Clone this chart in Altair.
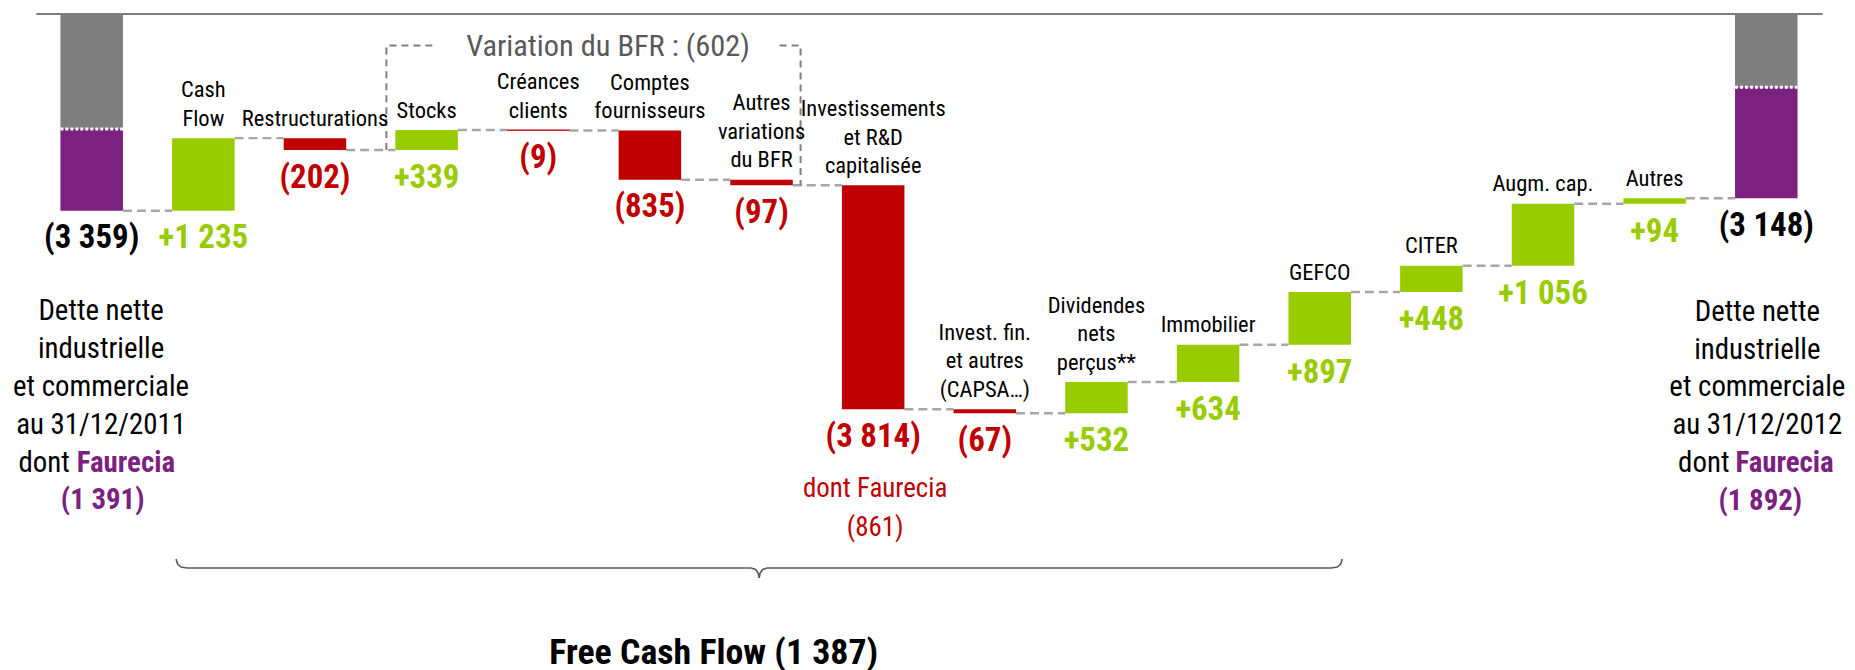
import altair as alt
import pandas as pd

# ---------------- data ----------------
keys = ["start", "cf", "restr", "stocks", "creances", "comptes", "autres_bfr", "invest",
        "invest_fin", "dividendes", "immobilier", "gefco", "citer", "augm_cap", "autres", "end"]
names = ["", "Cash\nFlow", "Restructurations", "Stocks", "Créances\nclients",
         "Comptes\nfournisseurs", "Autres\nvariations\ndu BFR",
         "Investissements\net R&D\ncapitalisée", "Invest. fin.\net autres\n(CAPSA…)",
         "Dividendes\nnets\nperçus**", "Immobilier", "GEFCO", "CITER", "Augm. cap.", "Autres", ""]
changes = [-3359, 1235, -202, 339, -9, -835, -97, -3814, -67, 532, 634, 897, 448, 1056, 94, -3148]
kinds = ["total"] + ["delta"] * 14 + ["total"]
faurecia_share = {"start": 1391, "end": 1892}
invest_faurecia = 861
bfr_total = -602
fcf_total = -1387

# ---------------- styles ----------------
GREEN, RED, GREY, PURPLE, BLACK = "#99CC00", "#C00000", "#7F7F7F", "#7B2180", "#000000"
FONT = "Roboto Condensed, Liberation Sans, sans-serif"
PX_PER_UNIT = 0.05897
PLOT_H = 658
YMIN = -PLOT_H / PX_PER_UNIT
CAT_FS, CAT_LH = 22.6, 28.5
VAL_FS = 33
NOTE_FS, NOTE_LH = 29, 38


def fmt(v):
    s = f"{abs(v):,}".replace(",", " ")
    return f"({s})" if v < 0 else f"+{s}"


# ---------------- derived tables ----------------
bars, labels, conns, dots = [], [], [], []
level = 0
ends = []
for k, n, v, kd in zip(keys, names, changes, kinds):
    if kd == "total":
        s, e = 0, v
        split = v + faurecia_share[k]
        bars.append(dict(cat=k, y0=0, y1=split, part="other"))
        bars.append(dict(cat=k, y0=split, y1=v, part="faurecia"))
        dots.append(dict(cat=k, lvl=split))
        lk = "total"
    else:
        s, e = level, level + v
        bars.append(dict(cat=k, y0=s, y1=e, part="up" if v > 0 else "down"))
        lk = "up" if v > 0 else "down"
    level = e
    ends.append(e)
    labels.append(dict(cat=k, name=n, nlines=n.count("\n") + 1, top=max(s, e), bottom=min(s, e),
                       txt=fmt(v), part=lk))
for i in range(len(keys) - 1):
    conns.append(dict(cat=keys[i], nxt=keys[i + 1], lvl=ends[i]))

bars_df = pd.DataFrame(bars)
lab_df = pd.DataFrame(labels)
conn_df = pd.DataFrame(conns)
dot_df = pd.DataFrame(dots)


# annotation geometry (data units on y, pixel offsets from band start on x)
def u(p):
    return -(p - 12) / PX_PER_UNIT


BOX_TOP = u(44.3)
box_df = pd.DataFrame([
    dict(cat="stocks", off=-9, lvl=ends[2], seg=0, seq=0),
    dict(cat="stocks", off=-9, lvl=BOX_TOP, seg=0, seq=1),
    dict(cat="stocks", off=40, lvl=BOX_TOP, seg=0, seq=2),
    dict(cat="autres_bfr", off=49.6, lvl=BOX_TOP, seg=1, seq=3),
    dict(cat="autres_bfr", off=70.6, lvl=BOX_TOP, seg=1, seq=4),
    dict(cat="autres_bfr", off=70.6, lvl=ends[6], seg=1, seq=5),
])
brace_pts = [("cf", 4, 560), ("cf", 5.5, 565), ("cf", 9, 568), ("cf", 15, 569),
             ("autres_bfr", 21, 569), ("autres_bfr", 25.5, 570.5), ("autres_bfr", 28, 574),
             ("autres_bfr", 29, 579), ("autres_bfr", 30, 574), ("autres_bfr", 32.5, 570.5),
             ("autres_bfr", 37, 569), ("gefco", 43, 569), ("gefco", 49, 568),
             ("gefco", 52.5, 565), ("gefco", 54, 560)]
brace_df = pd.DataFrame([dict(cat=c, off=o, lvl=u(p), seq=i) for i, (c, o, p) in enumerate(brace_pts)])

# ---------------- encodings ----------------
XS = alt.Scale(domain=keys, paddingInner=0.44, paddingOuter=0.22)
XAX = alt.Axis(orient="top", labels=False, ticks=False, title=None, domainColor=GREY,
               domainWidth=2, grid=False)
YS = alt.Scale(domain=[YMIN, 0], nice=False, zero=False)
CS = alt.Scale(domain=["up", "down", "other", "faurecia", "total"],
               range=[GREEN, RED, GREY, PURPLE, BLACK])


def X(field="cat", **kw):
    return alt.X(f"{field}:N", scale=XS, axis=XAX, sort=keys, **kw)


def Y(field):
    return alt.Y(f"{field}:Q", scale=YS, axis=None)


connectors = alt.Chart(conn_df).mark_rule(color="#A6A6A6", strokeWidth=2.5, strokeDash=[9, 5]).encode(
    x=X(bandPosition=1), x2=alt.X2("nxt:N", bandPosition=0), y=Y("lvl"))

bar_layer = alt.Chart(bars_df).mark_bar().encode(
    x=X(), y=Y("y0"), y2="y1:Q",
    color=alt.Color("part:N", scale=CS, legend=None))

thin = alt.Chart(lab_df[lab_df.cat == "creances"]).mark_rule(color=RED, strokeWidth=1.2).encode(
    x=X(bandPosition=0), x2=alt.X2("cat:N", bandPosition=1), y=Y("top"))

dotted = alt.Chart(dot_df).mark_rule(color="white", strokeWidth=3, strokeDash=[3, 2]).encode(
    x=X(bandPosition=0), x2=alt.X2("cat:N", bandPosition=1), y=Y("lvl"))

cat_layers = []
for nl in (1, 2, 3):
    sub = lab_df[(lab_df.name != "") & (lab_df.nlines == nl)]
    cat_layers.append(alt.Chart(sub).mark_text(
        font=FONT, fontSize=CAT_FS, baseline="alphabetic", dy=-12.5 - (nl - 1) * CAT_LH,
        lineBreak="\n", lineHeight=CAT_LH, color=BLACK).encode(x=X(), y=Y("top"), text="name:N"))

val_labels = alt.Chart(lab_df).mark_text(
    font=FONT, fontSize=VAL_FS, fontWeight="bold", baseline="alphabetic", dy=38).encode(
    x=X(), y=Y("bottom"), text="txt:N", color=alt.Color("part:N", scale=CS, legend=None))


# Dette nette blocks
def dette_block(cat, year_txt, share, dx_main, dx_dont, dx_faur, dx_share, dy0):
    d = lab_df[lab_df.cat == cat].copy()
    common = dict(font=FONT, fontSize=NOTE_FS, baseline="alphabetic")
    main = d.assign(t=f"Dette nette\nindustrielle\net commerciale\nau 31/12/{year_txt}")
    l1 = alt.Chart(main).mark_text(lineBreak="\n", lineHeight=NOTE_LH, dx=dx_main, dy=dy0,
                                   color=BLACK, **common).encode(
        x=X(), y=Y("bottom"), text="t:N")
    l2 = alt.Chart(d.assign(t="dont")).mark_text(align="right", dx=dx_dont, dy=dy0 + 4 * NOTE_LH,
                                                  color=BLACK, **common).encode(
        x=X(), y=Y("bottom"), text="t:N")
    l3 = alt.Chart(d.assign(t="Faurecia")).mark_text(fontWeight="bold", align="left", dx=dx_faur,
                                                      dy=dy0 + 4 * NOTE_LH, color=PURPLE,
                                                      **common).encode(
        x=X(), y=Y("bottom"), text="t:N")
    l4 = alt.Chart(d.assign(t=fmt(-share))).mark_text(fontWeight="bold", dx=dx_share,
                                                       dy=dy0 + 5 * NOTE_LH, color=PURPLE,
                                                       **common).encode(
        x=X(), y=Y("bottom"), text="t:N")
    return [l1, l2, l3, l4]


left_block = dette_block("start", "2011", faurecia_share["start"], 9.4, -22, -15, 11, 110)
right_block = dette_block("end", "2012", faurecia_share["end"], -9, -37, -31, -6, 123)

inv_note = alt.Chart(lab_df[lab_df.cat == "invest"].assign(
    t=f"dont Faurecia\n{fmt(-invest_faurecia)}")).mark_text(
    font=FONT, fontSize=27, lineBreak="\n", lineHeight=39, baseline="alphabetic", dx=2, dy=88.5,
    color=RED).encode(x=X(), y=Y("bottom"), text="t:N")

box = alt.Chart(box_df).mark_line(color=GREY, strokeWidth=2, strokeDash=[7, 5]).encode(
    x=X(), xOffset=alt.XOffset("off:Q", scale=None), y=Y("lvl"), detail="seg:N", order="seq:Q")

box_title = alt.Chart(pd.DataFrame([dict(cat="comptes", lvl=BOX_TOP,
                                         t=f"Variation du BFR : {fmt(bfr_total)}")])).mark_text(
    font=FONT, fontSize=30.5, baseline="middle", dx=-42, dy=1, color="#595959").encode(
    x=X(), y=Y("lvl"), text="t:N")

brace = alt.Chart(brace_df).mark_line(color="#595959", strokeWidth=1.6).encode(
    x=X(), xOffset=alt.XOffset("off:Q", scale=None), y=Y("lvl"), order="seq:Q")

fcf = alt.Chart(pd.DataFrame([dict(cat="autres_bfr", lvl=u(665),
                                   t=f"Free Cash Flow {fmt(fcf_total)}")])).mark_text(
    font=FONT, fontSize=36, fontWeight="bold", baseline="alphabetic", dx=-48, color=BLACK).encode(
    x=X(), y=Y("lvl"), text="t:N")

chart = alt.layer(
    connectors, box, bar_layer, thin, dotted, *cat_layers, val_labels,
    *left_block, *right_block, inv_note, box_title, brace, fcf
).properties(
    width=1794, height=PLOT_H,
    padding={"left": 28, "top": 4, "right": 25, "bottom": 0},
    autosize=alt.AutoSizeParams(type="none"),
    background="white",
).configure_view(stroke="transparent", strokeWidth=0)

chart.save("out.html", embed_options={"renderer": "svg", "actions": False})
